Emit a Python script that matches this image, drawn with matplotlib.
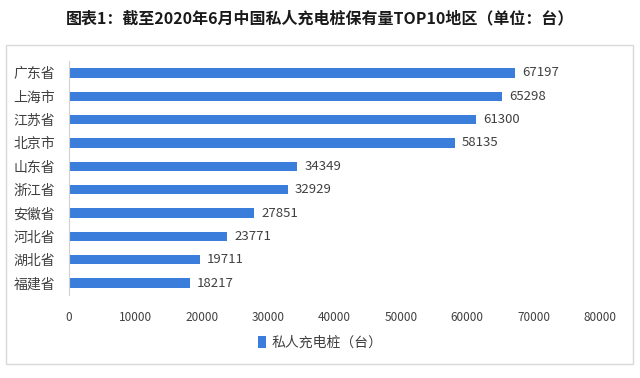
import matplotlib
matplotlib.use("Agg")
import matplotlib.pyplot as plt
from matplotlib.patches import Rectangle

plt.rcParams['font.family'] = ['Noto Sans CJK SC', 'DejaVu Sans']

regions = ["广东省", "上海市", "江苏省", "北京市", "山东省", "浙江省", "安徽省", "河北省", "湖北省", "福建省"]
values = [67197, 65298, 61300, 58135, 34349, 32929, 27851, 23771, 19711, 18217]
xticks = [0, 10000, 20000, 30000, 40000, 50000, 60000, 70000, 80000]
title = "图表1：截至2020年6月中国私人充电桩保有量TOP10地区（单位：台）"
legend_label = "私人充电桩（台）"

W, H = 640, 378
fig = plt.figure(figsize=(W/100, H/100), dpi=100)
fig.patch.set_facecolor("white")

# outer frame
fig.add_artist(Rectangle((6/W, 1-364/H), (633-6)/W, (364-45)/H, transform=fig.transFigure,
                         fill=False, edgecolor="#d9d9d9", linewidth=1))

fig.text(0.5, 1-18/H, title, ha="center", va="center", fontsize=11.5, fontweight="bold", color="#1a1a1a")

ax = fig.add_axes([69/W, 1-294.7/H, (600-69)/W, (294.7-61.3)/H])
color = "#3a7ddb"
y = list(range(len(regions)))
bars = ax.barh(y, values, height=0.39, color=color)
ax.set_ylim(len(regions)-0.5, -0.5)
ax.set_xlim(0, 80000)
ax.set_yticks(y)
ax.set_yticklabels(regions, fontsize=10, color="#404040")
ax.set_xticks(xticks)
ax.set_xticklabels([str(v) for v in xticks], fontsize=8.5, color="#404040")
ax.tick_params(axis="both", length=0)
ax.tick_params(axis="y", pad=10)
ax.tick_params(axis="x", pad=12)
for s in ["top", "right", "bottom"]:
    ax.spines[s].set_visible(False)
ax.spines["left"].set_color("#d0d0d0")
for yi, v in zip(y, values):
    ax.text(v + 1100, yi, str(v), va="center", ha="left", fontsize=9.5, color="#404040")

leg = fig.legend([bars], [legend_label], loc="center", bbox_to_anchor=(0.5, 1-343/H),
                 frameon=False, fontsize=10, handlelength=0.6, handleheight=0.9, handletextpad=0.4)
for t in leg.get_texts():
    t.set_color("#404040")

fig.savefig("out.png", dpi=100)
